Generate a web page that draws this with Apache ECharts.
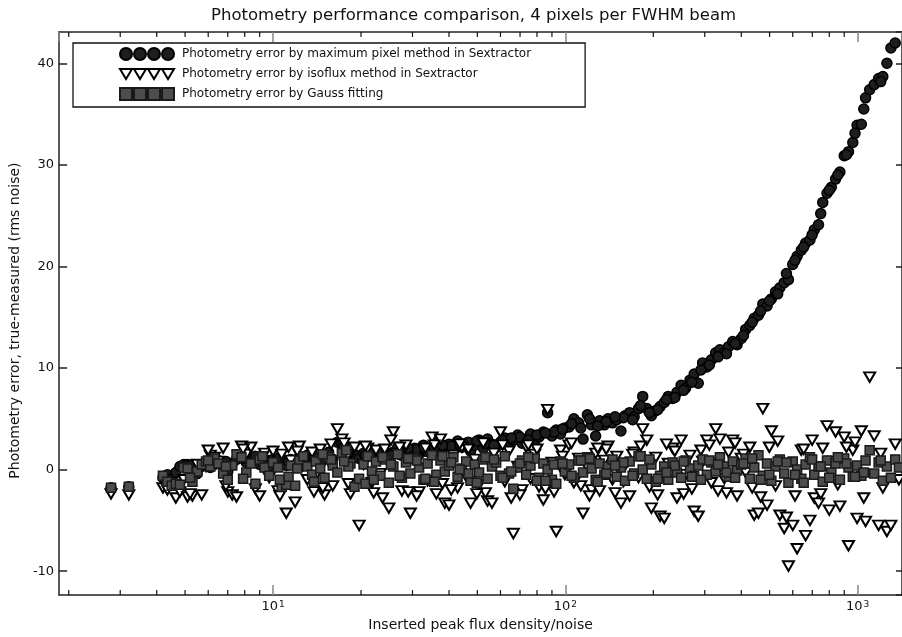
<!DOCTYPE html>
<html>
<head>
<meta charset="utf-8">
<script src="https://cdn.jsdelivr.net/npm/echarts@6/dist/echarts.min.js"></script>
<style>
  html, body { margin: 0; padding: 0; background: #fff; }
  #chart { width: 902px; height: 637px; }
</style>
</head>
<body>
<div id="chart"></div>
<script>
// inserted peak flux density / noise (x)
const fluxRatio = [
  2.79, 3.21,
  4.2, 4.35, 4.5, 4.65, 4.8, 4.95, 5.1, 5.3, 5.5, 5.7, 5.9, 6.1, 6.3, 6.5, 6.75, 7.0, 7.25, 7.5, 7.8, 8.1, 8.4, 8.7, 9.0, 9.35, 9.7, 10.0,
  10.4, 10.7, 11.1, 11.5, 11.9, 12.3, 12.7, 13.1, 13.6, 14.0,
  14.5, 15.0, 15.5, 16.0, 16.6, 17.2, 17.8, 18.4, 19.0, 19.7,
  20.4, 21.1, 21.8, 22.5, 23.3, 24.1, 24.9, 25.8, 26.7, 27.6,
  28.5, 29.5, 30.5, 31.6, 32.7, 33.8, 35.0, 36.2, 37.4, 38.7,
  40.0, 41.4, 42.8, 44.3, 45.8, 47.4, 49.0, 50.7, 52.4, 54.2,
  56.1, 58.0, 60.0, 62.1, 64.2, 66.4, 68.7, 71.1, 73.5, 76.0,
  78.6, 81.3, 84.1, 87.0, 90.0, 93.1, 96.3, 99.6,
  103, 107, 111, 115, 119, 123, 127, 131, 136, 140,
  145, 150, 155, 160, 166, 172, 178, 184, 190, 197,
  204, 211, 218, 225, 233, 241, 249, 258, 267, 276,
  285, 295, 305, 316, 327, 338, 350, 362, 374, 387,
  400, 414, 428, 443, 458, 474, 490, 507, 524, 542,
  561, 580, 600, 621, 642, 664, 687, 711, 735, 760,
  786, 813, 841, 870, 900, 931, 963, 996,
  1030, 1065, 1100, 1140, 1180, 1220, 1260, 1300, 1345, 1385,
  // second batch
  5.2, 6.0, 6.9, 7.9, 9.2, 10.55, 12.1, 13.8, 15.8, 18.1,
  20.7, 23.7, 27.1, 31.0, 35.6, 40.7, 46.6, 53.3, 61.0, 69.9,
  80.0, 91.5, 105, 121, 138, 158, 181, 207, 237, 271,
  311, 356, 407, 466, 533, 611, 699, 800, 916, 1050, 1200,
  11.3, 14.8, 17.5, 22.1, 25.3, 29.0, 33.2, 38.0, 43.5, 49.8,
  57.0, 65.3, 74.7, 85.5, 97.8,
  113, 129, 148, 170, 194, 222, 254, 291, 333, 381,
  436, 499, 571, 654, 748, 856, 980
];

// maximum pixel method in Sextractor
const maxPixelErr = [
  -1.8, -1.7,
  -0.8, -0.5, -0.9, -0.3, 0.3, 0.5, 0.5, 0.2, -0.4, 0.3, 0.6, 0.2, 0.5, 0.9, 0.4, -0.2, 0.6, 1.0, 1.2, 0.7, 0.9, 1.3, 0.5, 0.8, 0.3, 1.0,
  0.6, 0.9, 0.4, 1.0, 0.7, 1.2, 0.8, 1.4, 0.9, 1.1,
  0.6, 1.3, 1.7, 1.0, 2.7, 2.5, 1.2, 0.9, 1.5, 1.1,
  1.6, 1.3, 1.9, 1.0, 1.5, 1.8, 1.2, 1.7, 2.2, 1.4,
  1.9, 1.6, 2.1, 1.5, 2.4, 1.8, 2.0, 2.6, 1.7, 2.3,
  2.5, 1.9, 2.8, 2.2, 2.6, 1.8, 2.4, 2.9, 2.1, 3.0,
  2.5, 2.2, 2.7, 3.1, 2.4, 2.9, 3.4, 2.6, 3.0, 3.5,
  2.8, 3.2, 3.7, 5.6, 3.3, 3.9, 3.5, 4.1,
  4.2, 5.0, 4.6, 3.0, 5.4, 4.4, 3.3, 4.8, 4.4, 5.0,
  4.6, 4.9, 3.8, 5.3, 5.6, 5.2, 6.0, 7.2, 6.0, 5.3,
  5.8, 6.2, 6.6, 7.2, 7.0, 7.6, 8.3, 8.0, 8.8, 9.4,
  8.5, 10.5, 10.1, 10.8, 11.5, 11.8, 11.5, 12.1, 12.6, 12.3,
  12.9, 13.8, 14.2, 14.9, 15.2, 16.3, 16.1, 16.8, 17.5, 17.9,
  18.4, 18.7, 20.2, 21.0, 21.6, 22.3, 22.6, 23.6, 24.1, 26.3,
  27.2, 27.8, 28.6, 29.3, 30.9, 31.3, 32.2, 33.9,
  34.0, 36.6, 37.4, 37.9, 38.5, 38.7, 40.0, 41.5, 42.0, 43.2,
  // second batch
  0.4, 0.5, 0.8, 1.1, 0.7, 1.2, 0.9, 1.3, 1.1, 1.6,
  1.4, 1.9, 1.6, 2.0, 2.2, 2.3, 2.7, 2.6, 2.9, 3.2,
  3.4, 3.7, 4.5, 5.0, 4.7, 5.1, 6.3, 5.9, 7.1, 8.6,
  10.3, 11.4, 13.2, 15.6, 17.3, 20.6, 23.1, 27.5, 31.0, 35.5, 38.2,
  0.8, 1.0, 2.3, 1.7, 1.4, 2.1, 1.8, 2.4, 2.5, 2.8,
  2.4, 3.1, 2.9, 3.6, 4.0,
  4.1, 4.3, 5.2, 4.9, 5.6, 6.9, 7.8, 9.8, 11.1, 12.4,
  14.5, 16.6, 19.3, 21.9, 25.2, 29.0, 33.1
];

// isoflux method in Sextractor
const isofluxErr = [
  -2.4, -2.5,
  -1.8, -2.0, -1.5, -2.8, -2.2, -1.0, -2.7, -2.6, 0.5, -2.5, 0.3, 1.4, 1.2, 0.8, 2.1, -2.2, -2.5, -2.7, 2.3, 1.5, 2.2, -1.9, -2.6, 1.6, -0.8, 1.8,
  -2.1, 1.5, -4.3, 0.9, -3.2, 2.3, 0.4, -1.0, 1.7, -0.6,
  2.0, -2.5, 0.8, -1.6, 4.0, 3.0, 1.1, -2.4, 2.2, -5.5,
  0.5, 2.1, -1.3, 1.9, -0.4, 2.0, -3.8, 3.7, 1.6, -2.1,
  2.4, -4.3, 0.9, -2.2, 2.0, -1.1, 3.2, -2.4, 3.0, -3.3,
  -3.5, 1.4, -1.8, 2.2, -0.7, -3.3, 1.0, -1.5, 2.6, -3.1,
  -3.3, 0.6, 3.7, -1.2, 1.8, -6.3, 0.3, -2.0, 2.2, -0.9,
  1.5, -1.7, -3.0, 5.9, 0.7, -6.1, 1.9, -0.5,
  2.4, -1.3, 1.1, -4.3, 0.2, -2.0, 1.6, -2.1, 0.9, 2.3,
  -1.0, 1.3, -3.3, 0.4, -2.6, 1.7, -0.8, 4.0, 2.9, -3.8,
  1.2, -4.6, -4.8, 0.6, 2.1, -2.8, 2.9, -0.5, 1.4, -4.1,
  -4.6, 0.8, 2.9, -1.3, 4.0, 3.0, -0.9, 1.7, 2.9, -2.6,
  1.1, -0.3, 2.2, -4.5, -4.3, 6.0, -3.5, 3.8, -1.6, -4.5,
  -5.8, -9.5, -5.5, -7.8, 1.9, -6.5, -5.0, -2.8, -3.3, 2.1,
  4.3, 0.8, 3.7, -3.6, 3.2, -7.5, 1.9, -4.8,
  3.8, -5.1, 9.1, 3.3, -5.5, -1.8, -6.1, -5.5, 2.5, -1.0,
  // second batch
  -2.4, 1.9, -1.6, 2.0, 0.9, -2.6, 1.8, -2.2, 2.5, -1.4,
  2.3, -2.8, 2.2, -2.6, 2.4, -2.0, 2.0, -2.3, 2.4, -2.5,
  2.0, -2.2, 2.6, -2.6, 2.0, -1.2, 2.3, -2.5, 1.8, -1.9,
  2.4, -2.3, 1.5, -2.7, 2.8, -2.6, 2.9, -4.0, 2.2, -2.8, 1.6,
  2.2, -1.8, 2.6, -2.3, 2.9, -2.2, 2.1, -1.4, 2.5, -2.4,
  1.6, -2.8, 2.4, -1.9, 1.3,
  -1.6, 2.1, -2.3, 1.5, -1.7, 2.5, -2.4, 1.9, -2.1, 2.6,
  -1.8, 2.2, -4.7, 2.0, -2.4, -1.5, 2.7
];

// Gauss fitting
const gaussFitErr = [
  -1.8, -1.7,
  -0.6, -1.2, -1.6, -1.4, -1.5, 0.2, 0.1, -1.2, -0.2, 0.5, 0.8, 0.3, 1.1, 0.6, -0.4, -1.0, 0.4, 1.5, 1.2, -0.3, 0.6, -1.4, 1.0, 0.2, -0.6, 0.7,
  0.2, -1.7, -1.5, 0.4, -1.6, 0.9, 1.3, 0.3, -0.5, 0.8,
  0.1, -0.8, 1.2, 0.4, -0.3, 1.6, 1.9, 0.6, -1.7, -0.9,
  0.5, 1.3, -0.2, 0.8, -0.6, 1.0, -1.3, 0.3, 1.5, -0.8,
  0.7, -0.4, 1.1, 0.2, -1.0, 0.6, 1.4, -0.5, 0.9, -0.2,
  0.4, 1.2, -0.7, 0.1, 0.8, -1.1, 0.5, -0.3, 1.0, -0.9,
  0.3, 0.7, -0.6, 1.3, -0.4, -1.9, 0.2, 0.9, -0.5, 0.4,
  1.1, -0.8, 0.6, 0.0, -1.0, -1.4, 0.8, -0.2,
  0.5, -0.8, 0.9, -0.3, 1.2, 0.1, -1.0, 0.6, -0.5, 0.3,
  1.0, -0.7, 0.2, -1.1, 0.8, -0.4, 1.3, 0.0, -0.9, 0.5,
  -1.2, -0.6, 0.3, -1.0, 0.7, -0.3, -0.8, 0.9, 0.1, -0.6,
  0.4, 1.0, -0.5, 0.7, -0.2, 1.2, 0.3, -0.7, 0.8, -0.1,
  0.5, 1.1, -0.9, 0.2, 1.4, -0.6, 0.6, -1.1, 0.3, 1.0,
  -0.4, -1.3, 0.8, 0.0, -0.9, 0.5, 1.2, -0.5, 0.3, -1.2,
  0.9, -0.3, 0.6, -1.0, 1.1, 0.2, -0.7, 0.4,
  -0.6, 0.9, 1.9, -0.4, 0.7, -1.1, 0.3, -0.8, 1.0, 0.2,
  // second batch
  -0.8, 0.9, 0.3, -0.9, 1.3, -1.0, 0.1, -1.2, 1.0, 0.3,
  -1.4, 1.2, -0.6, 0.9, -1.2, 0.7, -0.4, 1.2, -0.8, 0.6,
  -1.1, 0.5, -0.6, 1.1, -0.4, 0.7, 1.3, -0.9, 0.4, -0.7,
  0.9, -0.3, 0.6, -1.0, 0.8, -0.5, 1.0, -0.8, 0.6, -0.3, 0.9,
  -0.7, 1.5, 0.8, -1.0, 0.5, 1.1, -0.9, 1.3, 0.0, -1.3,
  1.0, -0.2, 1.2, -1.1, 0.6,
  0.9, -1.2, 0.4, -0.6, 1.0, -0.3, 0.8, -1.0, 0.5, -0.8,
  1.1, -0.5, 0.7, -1.3, 0.3, 1.2, -0.7
];

const minorTickValues = [2, 3, 4, 5, 6, 7, 8, 9, 20, 30, 40, 50, 60, 70, 80, 90, 200, 300, 400, 500, 600, 700, 800, 900];

const seriesNames = [
  'Photometry error by maximum pixel method in Sextractor',
  'Photometry error by isoflux method in Sextractor',
  'Photometry error by Gauss fitting'
];

const FONT = 'DejaVu Sans';
const X_MIN = 1.854, X_MAX = 1419;
const Y_MIN = -12.36, Y_MAX = 43.08;

// legend icons: four markers in a row
const circlesIcon = 'path://M6,0A6,6 0 1,1 6,12A6,6 0 1,1 6,0Z M20,0A6,6 0 1,1 20,12A6,6 0 1,1 20,0Z M34,0A6,6 0 1,1 34,12A6,6 0 1,1 34,0Z M48,0A6,6 0 1,1 48,12A6,6 0 1,1 48,0Z';
const trianglesIcon = 'path://M0,0L12,0L6,10Z M14,0L26,0L20,10Z M28,0L40,0L34,10Z M42,0L54,0L48,10Z';
const squaresIcon = 'path://M0,0h12v12h-12Z M14,0h12v12h-12Z M28,0h12v12h-12Z M42,0h12v12h-12Z';

const pairs = ys => fluxRatio.map((x, i) => [x, ys[i]]);

const chart = echarts.init(document.getElementById('chart'));

// minor ticks of the log axis, top and bottom
const tickLines = (params, api) => {
  const p = api.coord([api.value(0), 0]);
  const cs = params.coordSys;
  const bottom = cs.y + cs.height;
  const style = { stroke: '#111', lineWidth: 1.2 };
  return {
    type: 'group',
    children: [
      { type: 'line', shape: { x1: p[0], y1: bottom, x2: p[0], y2: bottom - 5 }, style },
      { type: 'line', shape: { x1: p[0], y1: cs.y, x2: p[0], y2: cs.y + 5 }, style }
    ]
  };
};

const frameLine = { show: true, onZero: false, lineStyle: { color: '#222', width: 1.5 } };

chart.setOption({
  animation: false,
  backgroundColor: '#fff',
  title: {
    text: 'Photometry performance comparison, 4 pixels per FWHM beam',
    left: 206,
    top: 2,
    textStyle: { fontFamily: FONT, fontSize: 16.5, fontWeight: 'normal', color: '#111' }
  },
  legend: {
    orient: 'vertical',
    left: 73,
    top: 43,
    padding: [4, 54, 6, 46],
    itemWidth: 54,
    itemHeight: 12,
    itemGap: 7,
    backgroundColor: '#fff',
    borderColor: '#111',
    borderWidth: 1.3,
    borderRadius: 0,
    selectedMode: false,
    textStyle: { fontFamily: FONT, fontSize: 12, color: '#111', padding: [0, 0, 0, 3] },
    data: [
      { name: seriesNames[0], icon: circlesIcon },
      { name: seriesNames[1], icon: trianglesIcon },
      { name: seriesNames[2], icon: squaresIcon }
    ]
  },
  grid: { left: 57, right: -2, top: 32, bottom: 40 },
  xAxis: [
    {
      type: 'log', logBase: 10, min: X_MIN, max: X_MAX, position: 'bottom',
      name: 'Inserted peak flux density/noise',
      nameLocation: 'middle', nameGap: 19,
      nameTextStyle: { fontFamily: FONT, fontSize: 14, color: '#111' },
      axisLine: frameLine,
      axisTick: { show: true, inside: true, length: 10, lineStyle: { color: '#888', width: 1.5 } },
      axisLabel: {
        showMinLabel: false, showMaxLabel: false, margin: 5,
        fontFamily: FONT, fontSize: 13, color: '#111',
        formatter: v => '10{sup|' + Math.round(Math.log10(v)) + '}',
        rich: { sup: { fontFamily: FONT, fontSize: 9, color: '#111', verticalAlign: 'top', padding: [0, 0, 0, 1] } }
      },
      splitLine: { show: false }
    },
    {
      type: 'log', logBase: 10, min: X_MIN, max: X_MAX, position: 'top',
      axisLine: frameLine,
      axisTick: { show: true, inside: true, length: 10, lineStyle: { color: '#888', width: 1.5 } },
      axisLabel: { show: false },
      splitLine: { show: false }
    }
  ],
  yAxis: [
    {
      type: 'value', min: Y_MIN, max: Y_MAX, position: 'left',
      name: 'Photometry error, true-measured (rms noise)',
      nameLocation: 'middle', nameGap: 35, nameRotate: 90,
      nameTextStyle: { fontFamily: FONT, fontSize: 14, color: '#111', padding: [0, 14, 0, 0] },
      axisLine: frameLine,
      axisTick: { show: true, inside: true, length: 8, lineStyle: { color: '#222', width: 1.5 } },
      axisLabel: { showMinLabel: false, showMaxLabel: false, margin: 5, fontFamily: FONT, fontSize: 13, color: '#111' },
      splitLine: { show: false }
    },
    {
      type: 'value', min: Y_MIN, max: Y_MAX, position: 'right',
      axisLine: frameLine,
      axisTick: { show: true, inside: true, length: 6, lineStyle: { color: '#222', width: 1.5 } },
      axisLabel: { show: false },
      splitLine: { show: false }
    }
  ],
  series: [
    {
      name: seriesNames[0], type: 'scatter', symbol: 'circle', symbolSize: 10,
      data: pairs(maxPixelErr),
      itemStyle: { color: '#1e1e1e', borderColor: '#000', borderWidth: 1.5, opacity: 1 },
      emphasis: { disabled: true }
    },
    {
      name: seriesNames[1], type: 'scatter', symbol: 'triangle', symbolRotate: 180, symbolSize: [11, 9.5],
      data: pairs(isofluxErr),
      itemStyle: { color: '#fff', borderColor: '#000', borderWidth: 2, opacity: 1 },
      emphasis: { disabled: true }
    },
    {
      name: seriesNames[2], type: 'scatter', symbol: 'rect', symbolSize: 9,
      data: pairs(gaussFitErr),
      itemStyle: { color: '#4d4d4d', borderColor: '#1a1a1a', borderWidth: 1.5, opacity: 1 },
      emphasis: { disabled: true }
    },
    {
      type: 'custom', silent: true, z: 5,
      data: minorTickValues.map(v => [v, 0]),
      renderItem: tickLines
    }
  ]
});
</script>
</body>
</html>
